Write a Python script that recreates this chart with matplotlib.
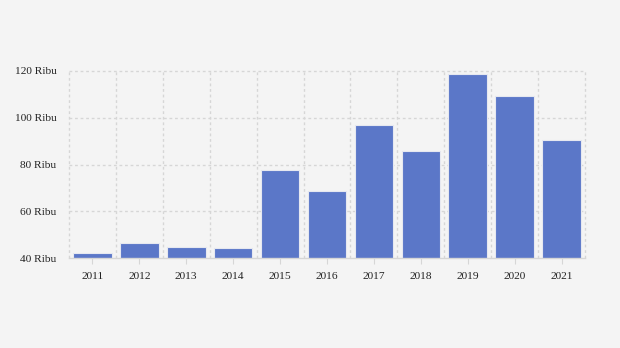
import matplotlib.pyplot as plt
from matplotlib.ticker import FuncFormatter

years = ['2011', '2012', '2013', '2014', '2015', '2016', '2017', '2018', '2019', '2020', '2021']
values = [42.0, 46.3, 44.5, 44.1, 77.5, 68.5, 96.8, 85.7, 118.6, 109.2, 90.4]
y_ticks = [40, 60, 80, 100, 120]

plt.rcParams['font.family'] = ['Liberation Serif', 'DejaVu Serif']

fig = plt.figure(figsize=(6.2, 3.48), dpi=100, facecolor='#f4f4f4')
ax = fig.add_axes([69 / 620, 1 - 258 / 348, (585 - 69) / 620, (258 - 71) / 348])
ax.set_facecolor('#f4f4f4')

x = range(len(years))
ax.bar(x, values, width=0.82, bottom=0, color='#5b77c8',
       edgecolor='#e6e8f0', linewidth=0.8, zorder=3)

ax.set_xlim(-0.5, len(years) - 0.5)
ax.set_ylim(40, 120)
ax.set_yticks(y_ticks)
ax.yaxis.set_major_formatter(FuncFormatter(lambda v, p: f'{int(v)} Ribu'))
ax.set_xticks(list(x))
ax.set_xticklabels(years)

# grid: horizontal at y ticks, vertical at category boundaries
for yv in y_ticks[1:]:
    ax.axhline(yv, color='#d6d6d6', linestyle=(0, (2, 2)), linewidth=1, zorder=1, clip_on=False)
for b in range(len(years) + 1):
    ax.axvline(b - 0.5, color='#d6d6d6', linestyle=(0, (2, 2)), linewidth=1, zorder=1, clip_on=False)

for s in ['top', 'left', 'right']:
    ax.spines[s].set_visible(False)
ax.spines['bottom'].set_color('#d6d6d6')
ax.spines['bottom'].set_linewidth(1)
ax.spines['bottom'].set_zorder(4)

ax.tick_params(axis='y', length=0, pad=9, labelsize=8.2, labelcolor='#222222')
ax.tick_params(axis='x', length=4, color='#d6d6d6', pad=6, labelsize=8.2, labelcolor='#222222')

fig.savefig('out.png', dpi=100, facecolor=fig.get_facecolor())
